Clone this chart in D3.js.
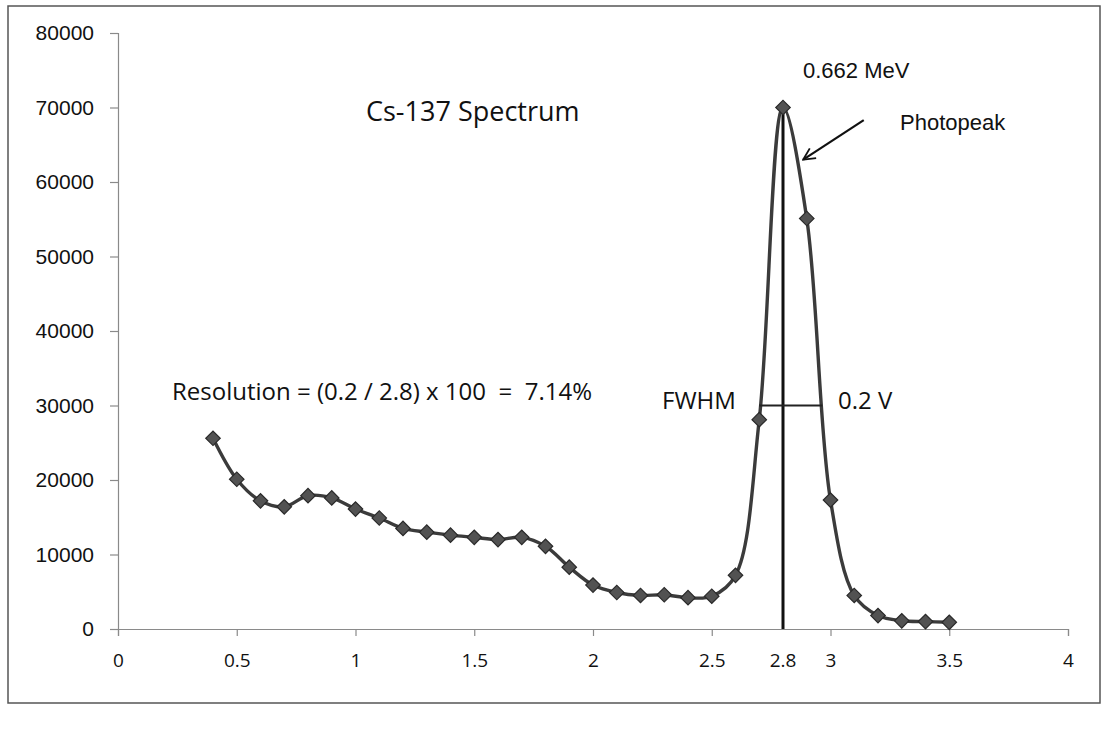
<!DOCTYPE html>
<html>
<head>
<meta charset="utf-8">
<script src="https://cdn.jsdelivr.net/npm/d3@7"></script>
<style>
  body { margin: 0; background: #fff; }
  text { white-space: pre; }
</style>
</head>
<body>
<svg id="chart" width="1109" height="730"></svg>
<script>
// channel voltage (x) and counts (y)
var energy = [0.4, 0.5, 0.6, 0.7, 0.8, 0.9, 1.0, 1.1, 1.2, 1.3, 1.4, 1.5, 1.6, 1.7, 1.8, 1.9,
	2.0, 2.1, 2.2, 2.3, 2.4, 2.5, 2.6, 2.7, 2.8, 2.9, 3.0, 3.1, 3.2, 3.3, 3.4, 3.5];
var counts = [25600, 20100, 17200, 16400, 17900, 17600, 16100, 14900, 13500, 13000, 12600, 12300, 12000, 12300, 11100, 8300,
	5900, 4900, 4500, 4600, 4200, 4400, 7200, 28100, 70000, 55100, 17300, 4500, 1800, 1100, 1000, 900];

var yTicks = [0, 10000, 20000, 30000, 40000, 50000, 60000, 70000, 80000];
var xTicks = [0, 0.5, 1, 1.5, 2, 2.5, 3, 3.5, 4];

// annotation values
var peakX = 2.8;
var peakY = 70000;
var fwhmLevel = 30000;
var fwhmFrom = 2.70;
var fwhmTo = 2.965;
var arrowFrom = [3.14, 68300];
var arrowTo = [2.885, 63000];

var svg = d3.select("#chart");

var x = d3.scaleLinear().domain([0, 4]).range([118, 1068]);
var y = d3.scaleLinear().domain([0, 80000]).range([629, 33]);

// outer frame
svg.append("rect")
	.attr("x", 8).attr("y", 6)
	.attr("width", 1092).attr("height", 697)
	.attr("fill", "none")
	.attr("stroke", "#555")
	.attr("stroke-width", 1.5);

// axes
var yAxis = svg.append("g")
	.attr("transform", "translate(118,0)")
	.call(d3.axisLeft(y).tickValues(yTicks).tickSize(8).tickPadding(16).tickFormat(d3.format("d")));

var xAxis = svg.append("g")
	.attr("transform", "translate(0,629)")
	.call(d3.axisBottom(x).tickValues(xTicks).tickSize(7).tickPadding(18).tickFormat(function (d) { return d; }));

yAxis.selectAll("path, line").attr("stroke", "#8a8a8a").attr("stroke-width", 1.2);
xAxis.selectAll("path, line").attr("stroke", "#8a8a8a").attr("stroke-width", 1.2);
yAxis.selectAll("text")
	.attr("font-family", "'Liberation Sans', Arial, sans-serif")
	.attr("font-size", 21)
	.attr("fill", "#111");
xAxis.selectAll("text")
	.attr("font-family", "'Open Sans', sans-serif")
	.attr("font-size", 19)
	.attr("fill", "#111");

// extra label under the peak line
svg.append("text")
	.attr("x", x(peakX))
	.attr("y", 629 + 7 + 18)
	.attr("dy", "0.71em")
	.attr("text-anchor", "middle")
	.attr("font-family", "'Open Sans', sans-serif")
	.attr("font-size", 19)
	.attr("fill", "#111")
	.text("2.8");

// spectrum line
var data = energy.map(function (e, i) { return { e: e, c: counts[i] }; });

var line = d3.line()
	.x(function (d) { return x(d.e); })
	.y(function (d) { return y(d.c); })
	.curve(d3.curveCatmullRom.alpha(0.5));

svg.append("path")
	.datum(data)
	.attr("d", line)
	.attr("fill", "none")
	.attr("stroke", "#3b3b3b")
	.attr("stroke-width", 3.4);

// vertical line at the photopeak
svg.append("line")
	.attr("x1", x(peakX)).attr("x2", x(peakX))
	.attr("y1", y(0)).attr("y2", y(peakY))
	.attr("stroke", "#111")
	.attr("stroke-width", 3);

// FWHM bar
svg.append("line")
	.attr("x1", x(fwhmFrom)).attr("x2", x(fwhmTo))
	.attr("y1", y(fwhmLevel)).attr("y2", y(fwhmLevel))
	.attr("stroke", "#222")
	.attr("stroke-width", 2.2);

// diamond markers
svg.selectAll(".pt")
	.data(data)
	.join("path")
	.attr("class", "pt")
	.attr("d", d3.symbol().type(d3.symbolSquare).size(105))
	.attr("transform", function (d) { return "translate(" + x(d.e) + "," + y(d.c) + ") rotate(45)"; })
	.attr("fill", "#525252")
	.attr("stroke", "#2a2a2a")
	.attr("stroke-width", 1.2);

// arrow to the photopeak
svg.append("defs").append("marker")
	.attr("id", "arrowhead")
	.attr("viewBox", "0 0 12 12")
	.attr("refX", 11).attr("refY", 6)
	.attr("markerWidth", 14).attr("markerHeight", 14)
	.attr("markerUnits", "userSpaceOnUse")
	.attr("orient", "auto")
	.append("path")
	.attr("d", "M1,1 L11,6 L1,11")
	.attr("fill", "none")
	.attr("stroke", "#111")
	.attr("stroke-width", 1.6);

svg.append("line")
	.attr("x1", x(arrowFrom[0])).attr("y1", y(arrowFrom[1]))
	.attr("x2", x(arrowTo[0])).attr("y2", y(arrowTo[1]))
	.attr("stroke", "#111")
	.attr("stroke-width", 2.2)
	.attr("marker-end", "url(#arrowhead)");

// text labels
function label(tx, ty, str, family, size) {
	svg.append("text")
		.attr("x", tx).attr("y", ty)
		.attr("font-family", family)
		.attr("font-size", size)
		.attr("fill", "#111")
		.text(str);
}

label(366, 121, "Cs-137 Spectrum", "'Open Sans', sans-serif", 27);
label(172, 400, "Resolution = (0.2 / 2.8) x 100  =  7.14%", "'Open Sans', sans-serif", 24);
label(662, 409, "FWHM", "'Open Sans', sans-serif", 24);
label(838, 409, "0.2 V", "'Open Sans', sans-serif", 24);
label(803, 78, "0.662 MeV", "'Liberation Sans', Arial, sans-serif", 22);
label(900, 130, "Photopeak", "'Liberation Sans', Arial, sans-serif", 22);
</script>
</body>
</html>
